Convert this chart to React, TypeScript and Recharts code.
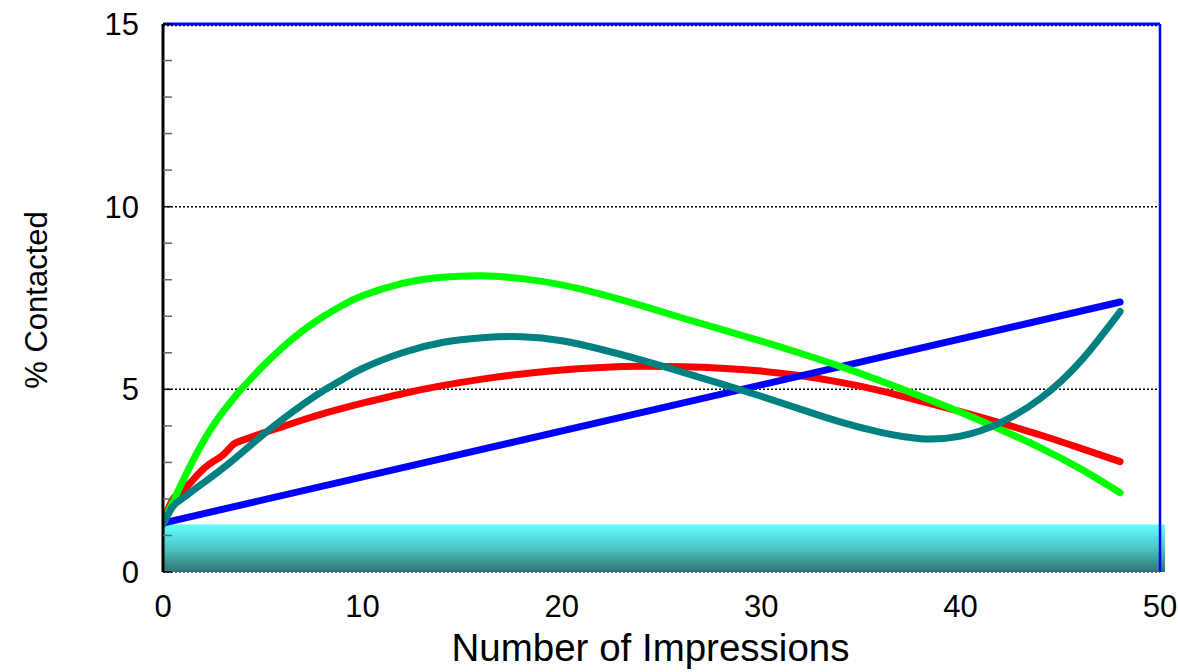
import React from 'react';
import { LineChart, Line, XAxis, YAxis, ReferenceLine, ReferenceArea } from 'recharts';

// x positions
const impressions = [0, 0.5, 1, 1.5, 2, 2.5, 3, 3.5, 4, 5, 6, 7, 8, 9, 10, 12, 14, 16, 18, 20, 22, 24, 26, 28, 30, 32, 34, 36, 38, 40, 42, 44, 46, 48];

const redValues = [1.33, 2.0, 2.24, 2.52, 2.81, 3.02, 3.2, 3.48, 3.61, 3.8, 3.98, 4.16, 4.33, 4.48, 4.62, 4.88, 5.1, 5.28, 5.42, 5.53, 5.6, 5.63, 5.62, 5.58, 5.5, 5.37, 5.19, 4.96, 4.68, 4.39, 4.08, 3.75, 3.39, 3.02];
const greenValues = [1.33, 1.92, 2.5, 3.05, 3.55, 4.0, 4.38, 4.73, 5.05, 5.63, 6.15, 6.6, 6.98, 7.3, 7.56, 7.9, 8.07, 8.11, 8.03, 7.86, 7.6, 7.29, 6.96, 6.64, 6.32, 5.98, 5.62, 5.23, 4.81, 4.37, 3.9, 3.4, 2.83, 2.17];
const tealValues = [1.3, 1.8, 2.02, 2.23, 2.43, 2.63, 2.84, 3.06, 3.29, 3.75, 4.18, 4.58, 4.95, 5.27, 5.57, 6.0, 6.28, 6.41, 6.44, 6.33, 6.09, 5.8, 5.48, 5.15, 4.81, 4.45, 4.1, 3.82, 3.65, 3.72, 4.09, 4.75, 5.76, 7.13];

const blueImpressions = [0, 48];
const blueValues = [1.34, 7.39];

const xTicks = [0, 10, 20, 30, 40, 50];
const yTicks = [0, 1, 2, 3, 4, 5, 6, 7, 8, 9, 10, 11, 12, 13, 14, 15];
const bandTop = 1.3;

const toRows = (xs: number[], ys: number[]) => xs.map((x, i) => ({ x, y: ys[i] }));

const redData = toRows(impressions, redValues);
const greenData = toRows(impressions, greenValues);
const tealData = toRows(impressions, tealValues);
const blueData = toRows(blueImpressions, blueValues);

const font = '"Liberation Sans", Arial, sans-serif';

function YTick(props: any) {
    const { x, y, payload } = props;
    const v = payload.value;
    return (
        <g>
            <line x1={x} x2={x + 9} y1={y} y2={y} stroke={v % 5 === 0 ? '#000' : '#666'} strokeWidth={1.5} />
            {v % 5 === 0 && (
                <text x={x - 24} y={y} dy={11} textAnchor="end" fontSize={31} fontFamily={font} fill="#000">
                    {v}
                </text>
            )}
        </g>
    );
}

function XTick(props: any) {
    const { x, y, payload } = props;
    return (
        <text x={x} y={y} dy={45} textAnchor="middle" fontSize={31} fontFamily={font} fill="#000">
            {payload.value}
        </text>
    );
}

function YLabel(props: any) {
    const { viewBox } = props;
    const cx = viewBox.x + 47;
    const cy = viewBox.y + viewBox.height / 2 + 2;
    return (
        <text x={cx} y={cy} transform={`rotate(-90, ${cx}, ${cy})`} textAnchor="middle" fontSize={31} fontFamily={font} fill="#000">
            % Contacted
        </text>
    );
}

function XLabel(props: any) {
    const { viewBox } = props;
    const cx = viewBox.x + viewBox.width / 2 - 11;
    return (
        <text x={cx} y={viewBox.y + 89} textAnchor="middle" fontSize={38.5} fontFamily={font} fill="#000">
            Number of Impressions
        </text>
    );
}

export default function App() {
    return (
        <div style={{ position: 'absolute', left: 0, top: 0, background: '#fff' }}>
            <LineChart width={1178} height={672} margin={{ top: 24, right: 18, bottom: 0, left: 0 }}>
                <defs>
                    <linearGradient id="band" x1="0" y1="0" x2="0" y2="1">
                        <stop offset="0%" stopColor="#62ffff" />
                        <stop offset="50%" stopColor="#4cc6c4" />
                        <stop offset="100%" stopColor="#2e7472" />
                    </linearGradient>
                </defs>
                <XAxis
                    type="number"
                    dataKey="x"
                    domain={[0, 50]}
                    ticks={xTicks}
                    allowDataOverflow
                    height={100}
                    tickLine={false}
                    tickSize={0}
                    tickMargin={0}
                    tick={<XTick />}
                    axisLine={{ stroke: '#5a5a9a', strokeWidth: 2, strokeDasharray: '2 2' }}
                    label={<XLabel />}
                />
                <YAxis
                    type="number"
                    dataKey="y"
                    domain={[0, 15]}
                    ticks={yTicks}
                    interval={0}
                    width={163}
                    tickLine={false}
                    tickSize={0}
                    tickMargin={0}
                    tick={<YTick />}
                    axisLine={{ stroke: '#000', strokeWidth: 3 }}
                    label={<YLabel />}
                />
                <ReferenceLine y={5} stroke="#000" strokeWidth={1.5} strokeDasharray="2 2" />
                <ReferenceLine y={10} stroke="#000" strokeWidth={1.5} strokeDasharray="2 2" />
                <ReferenceLine y={14.96} stroke="#000" strokeWidth={1.5} strokeDasharray="2 2" />
                <ReferenceLine y={15} stroke="#0000ff" strokeWidth={3} />
                <ReferenceLine x={50} stroke="#0000ff" strokeWidth={2.5} />
                <ReferenceArea x1={0} x2={50.25} y1={0} y2={bandTop} ifOverflow="visible" fill="url(#band)" fillOpacity={1} stroke="none" />
                <Line data={redData} dataKey="y" type="natural" stroke="#ff0000" strokeWidth={7} strokeLinecap="round" dot={false} isAnimationActive={false} />
                <Line data={blueData} dataKey="y" type="linear" stroke="#0000ff" strokeWidth={7} strokeLinecap="round" dot={false} isAnimationActive={false} />
                <Line data={greenData} dataKey="y" type="natural" stroke="#00ff00" strokeWidth={7} strokeLinecap="round" dot={false} isAnimationActive={false} />
                <Line data={tealData} dataKey="y" type="natural" stroke="#008080" strokeWidth={7} strokeLinecap="round" dot={false} isAnimationActive={false} />
            </LineChart>
        </div>
    );
}
